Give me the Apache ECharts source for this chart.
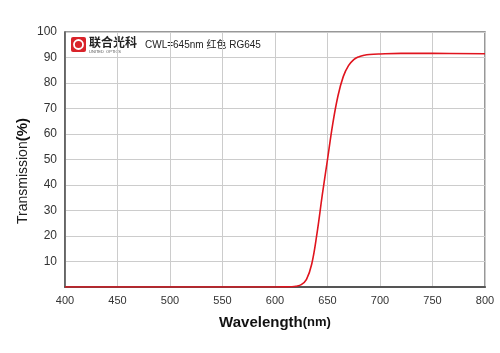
<!DOCTYPE html>
<html>
<head>
<meta charset="utf-8">
<script src="https://cdn.jsdelivr.net/npm/echarts@6/dist/echarts.min.js"></script>
<style>
  html, body { margin: 0; padding: 0; background: #fff; }
  #main { width: 500px; height: 353px; }
</style>
</head>
<body>
<div id="main"></div>
<script>
// 波长 (nm) 与透过率 (%)
var wavelengths = [400, 450, 500, 550, 600, 610, 615, 620, 625, 630, 635, 640, 645, 650, 655, 660, 665, 670, 675, 680, 685, 690, 700, 720, 750, 800]
var transmission = [0, 0, 0, 0, 0, 0.05, 0.1, 0.3, 0.9, 3, 9, 21, 36, 50, 64, 75, 82.5, 86.8, 89.2, 90.3, 90.9, 91.2, 91.4, 91.6, 91.6, 91.5]
var xTicks = [400, 450, 500, 550, 600, 650, 700, 750, 800]
var yTicks = [0, 10, 20, 30, 40, 50, 60, 70, 80, 90, 100]

var points = []
for (var i = 0; i < wavelengths.length; i++) {
  points.push([wavelengths[i], transmission[i]])
}

var myChart = echarts.init(document.getElementById('main'))
var option = {
  animation: false,
  grid: {
    left: 65, right: 15, top: 32, bottom: 66,
    show: true, borderColor: '#777', borderWidth: 1.5
  },
  xAxis: {
    type: 'value',
    min: xTicks[0], max: xTicks[xTicks.length - 1], interval: 50,
    axisLine: { lineStyle: { color: '#555', width: 2 } },
    axisTick: { show: false },
    axisLabel: { color: '#333', fontSize: 11, fontFamily: 'Liberation Sans', margin: 8 },
    splitLine: { lineStyle: { color: '#ccc' } },
    name: '{a|Wavelength}{b|(nm)}',
    nameLocation: 'middle',
    nameGap: 28,
    nameTextStyle: {
      rich: {
        a: { fontSize: 15, fontWeight: 'bold', color: '#111', fontFamily: 'Liberation Sans' },
        b: { fontSize: 13, fontWeight: 'bold', color: '#111', fontFamily: 'Liberation Sans' }
      }
    }
  },
  yAxis: {
    type: 'value',
    min: yTicks[0], max: yTicks[yTicks.length - 1], interval: 10,
    axisLine: { show: true, lineStyle: { color: '#555', width: 1.5 } },
    axisTick: { show: false },
    axisLabel: {
      color: '#333', fontSize: 12, fontFamily: 'Liberation Sans', margin: 8,
      formatter: function (v) { return v === 0 ? '' : v }
    },
    splitLine: { lineStyle: { color: '#ccc' } }
  },
  graphic: [
    {
      type: 'text', x: 23, y: 171, rotation: Math.PI / 2,
      style: {
        text: '{a|Transmission}{b|(%)}', align: 'center', verticalAlign: 'middle',
        rich: {
          a: { fontSize: 14, fill: '#222', fontFamily: 'Liberation Sans' },
          b: { fontSize: 15, fontWeight: 'bold', fill: '#111', fontFamily: 'Liberation Sans' }
        }
      }
    },
    { type: 'rect', shape: { x: 71, y: 37, width: 15, height: 15, r: 2 }, style: { fill: '#d9232a' } },
    { type: 'circle', shape: { cx: 78.5, cy: 44.5, r: 4.5 }, style: { fill: 'none', stroke: '#fff', lineWidth: 1.8 } },
    { type: 'text', left: 89, top: 36, style: { text: '联合光科', font: 'bold 12px "Noto Sans CJK SC"', fill: '#222' } },
    { type: 'text', left: 89, top: 50, style: { text: 'UNITED  OPTICS', font: '4px "Liberation Sans"', fill: '#555' } },
    { type: 'text', left: 145, top: 40, style: { text: 'CWL=645nm 红色 RG645', font: '10px "Liberation Sans", "Noto Sans CJK SC"', fill: '#222' } }
  ],
  series: [{
    type: 'line',
    data: points,
    smooth: 0.4,
    showSymbol: false,
    lineStyle: { color: '#e0141e', width: 1.6 }
  }]
}
myChart.setOption(option)
</script>
</body>
</html>
